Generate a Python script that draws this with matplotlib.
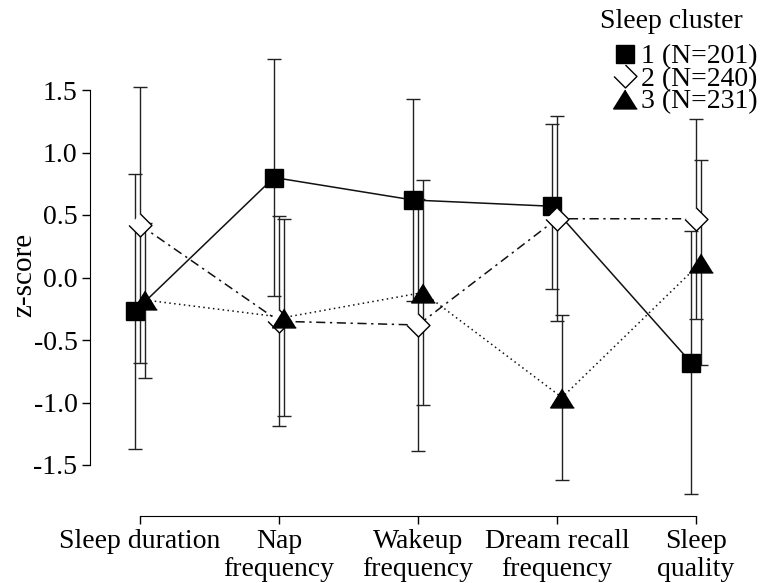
import matplotlib
matplotlib.use('Agg')
import matplotlib.pyplot as plt
import numpy as np

plt.rcParams['font.family'] = ['Liberation Serif', 'DejaVu Serif']
plt.rcParams['axes.unicode_minus'] = False

# z-scores per sleep variable, mean and SD per cluster
categories = ['Sleep duration', 'Nap\nfrequency', 'Wakeup\nfrequency',
              'Dream recall\nfrequency', 'Sleep\nquality']
yticks = [-1.5, -1.0, -0.5, 0.0, 0.5, 1.0, 1.5]
ytick_labels = ['-1.5', '-1.0', '-0.5', '0.0', '0.5', '1.0', '1.5']

cluster_labels = ['1 (N=201)', '2 (N=240)', '3 (N=231)']
c1_mean = [-0.27, 0.80, 0.62, 0.57, -0.68]
c1_sd = [1.10, 0.95, 0.81, 0.66, 1.05]
c2_mean = [0.42, -0.35, -0.38, 0.47, 0.47]
c2_sd = [1.10, 0.84, 1.01, 0.82, 0.80]
c3_mean = [-0.18, -0.32, -0.12, -0.96, 0.12]
c3_sd = [0.62, 0.79, 0.90, 0.66, 0.82]

tri = [(0, 0.8), (-1, -0.8), (1, -0.8)]
diamond = [(0, 1), (1, 0), (0, -1), (-1, 0)]
styles = [
    dict(marker='s', ms=13, mfc='black', ls='-', dodge=-0.036),
    dict(marker=diamond, ms=16.5, mfc='white', ls=(0, (6, 3, 1.5, 3)), dodge=0.0),
    dict(marker=tri, ms=17, mfc='black', ls=(0, (1, 2.2)), dodge=0.036),
]

fig = plt.figure(figsize=(7.6, 5.83), dpi=100)
ax = fig.add_axes([90 / 760, (583 - 516.25) / 583, 660 / 760, (516.25 - 33.75) / 583])

x = np.arange(len(categories))
means = [c1_mean, c2_mean, c3_mean]
sds = [c1_sd, c2_sd, c3_sd]
for m, s, st, lab in zip(means, sds, styles, cluster_labels):
    xs = x + st['dodge']
    ax.errorbar(xs, m, yerr=s, fmt='none', ecolor='#222222', elinewidth=1,
                capsize=4.7, capthick=1, zorder=1)
    ax.plot(xs, m, color='#111111', ls=st['ls'], lw=1.1, zorder=2)
    ax.plot(xs, m, ls='none', marker=st['marker'], ms=st['ms'], mfc=st['mfc'],
            mec='black', mew=1, zorder=3, label=lab)

ax.set_xlim(-50 / 139, 610 / 139)
ax.set_ylim(-1.91, 1.95)
ax.set_xticks(x)
ax.set_xticklabels(categories, fontsize=20, linespacing=1.15)
ax.set_yticks(yticks)
ax.set_yticklabels(ytick_labels, fontsize=20)
ax.tick_params(direction='out', length=6, width=1, pad=3)
ax.set_ylabel('z-score', fontsize=21, labelpad=-3)

for side in ['top', 'right']:
    ax.spines[side].set_visible(False)
ax.spines['left'].set_bounds(-1.5, 1.5)
ax.spines['bottom'].set_bounds(0, 4)

# legend title placed on its own, entries below it
fig.text(671 / 760, 1 - 22 / 583, 'Sleep cluster', fontsize=20, ha='center', va='center')
ax.legend(loc='upper right', bbox_to_anchor=(1.0, 1 - 41 / 583), bbox_transform=fig.transFigure,
          frameon=False, fontsize=20, borderpad=0.0, handletextpad=-0.1,
          handlelength=1.3, labelspacing=-0.1, borderaxespad=0.1)

fig.savefig('out.png', dpi=100)
